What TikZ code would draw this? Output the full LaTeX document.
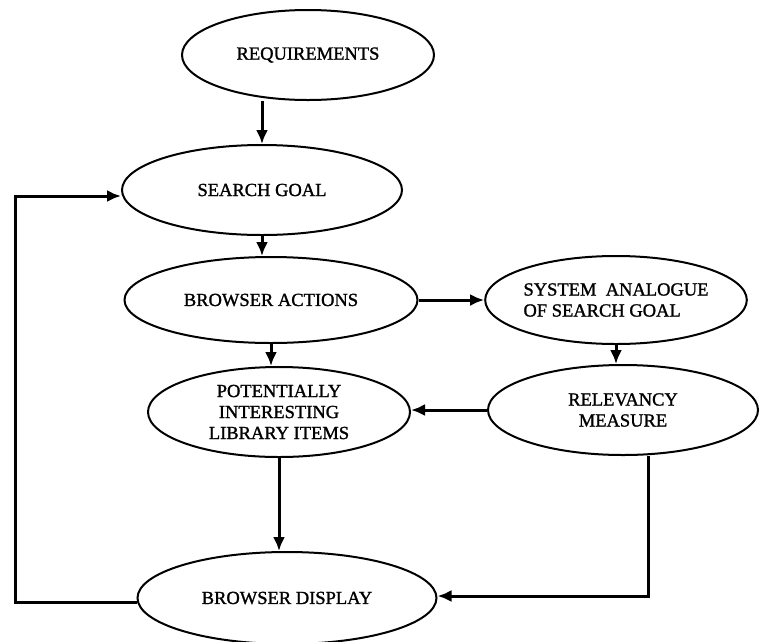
\documentclass[tikz,border=0pt]{standalone}
\usepackage{fontspec}
\setmainfont{Liberation Serif}
\newfontfamily\stagefont[BoldFont={Liberation Serif},BoldFeatures={FakeBold=1.3}]{Liberation Serif}
\usetikzlibrary{arrows.meta,shapes.geometric}
\begin{document}
\begin{tikzpicture}[x=1pt,y=-1pt,
  stage/.style={draw, line width=2pt, ellipse, inner sep=0pt,
    align=center, font=\stagefont\bfseries\fontsize{18.5}{21}\selectfont},
  flow/.style={line width=3pt, -{Latex[length=14pt,width=12pt]}}]
\useasboundingbox (0,0) rectangle (772,641);
\fill[white] (0,0) rectangle (772,641);

% stages of the browsing process
\node[stage, minimum width=252, minimum height=90] (req) at (308,55) {REQUIREMENTS};
\node[stage, minimum width=280, minimum height=90] (goal) at (262,190) {SEARCH GOAL};
\node[stage, minimum width=293, minimum height=86] (act) at (271,300) {BROWSER ACTIONS};
\node[stage, minimum width=252, minimum height=88, align=left] (ana) at (616,300) {SYSTEM\ \ ANALOGUE\\OF SEARCH GOAL};
\node[stage, minimum width=262, minimum height=90] (pot) at (279,412) {POTENTIALLY\\INTERESTING\\LIBRARY ITEMS};
\node[stage, minimum width=270, minimum height=90] (rel) at (623,410) {RELEVANCY\\MEASURE};
\node[stage, minimum width=299, minimum height=92] (disp) at (287,598) {BROWSER DISPLAY};

% turning points of the routed connectors
\coordinate (rdown) at (648,596);
\coordinate (lbot) at (15,602);
\coordinate (ltop) at (15,196);

% connectors
\draw[flow] (req.south -| goal.north) -- (goal.north);
\draw[flow] (goal.south) -- (goal.south |- act.north);
\draw[flow] (act.east) -- (ana.west);
\draw[flow] (act.south) -- (act.south |- pot.north);
\draw[flow] (ana.south) -- (ana.south |- rel.north);
\draw[flow] (rel.west) -- (pot.east |- rel.west);
\draw[flow] (pot.south) -- (pot.south |- disp.north);
\draw[flow] (rel.south -| rdown) -- (rdown) -- (disp.east |- rdown);
\draw[flow] (disp.west |- lbot) -- (lbot) -- (ltop) -- (goal.west |- ltop);
\end{tikzpicture}
\end{document}
